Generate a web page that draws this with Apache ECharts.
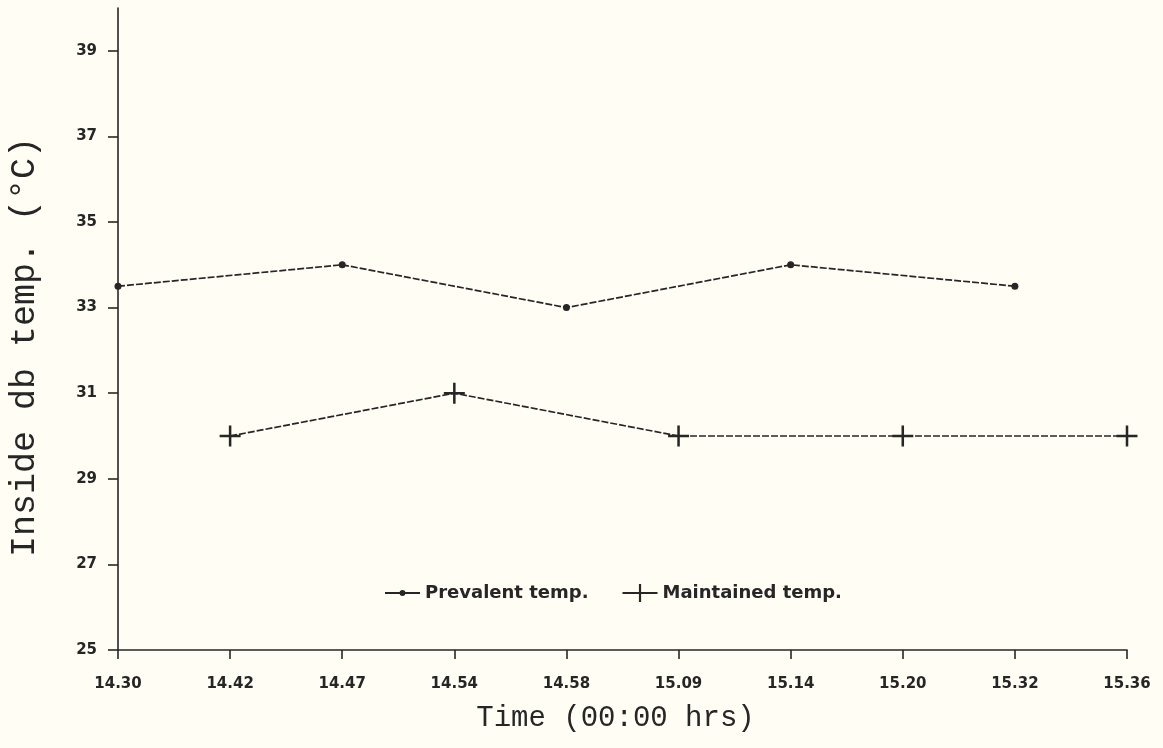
<!DOCTYPE html>
<html>
<head>
<meta charset="utf-8">
<script src="https://cdn.jsdelivr.net/npm/echarts@6/dist/echarts.min.js"></script>
<style>
html,body{margin:0;padding:0;background:#fffdf4;}
#c{width:1163px;height:748px;}
</style>
</head>
<body>
<div id="c"></div>
<script>
var categories = ['14.30','14.42','14.47','14.54','14.58','15.09','15.14','15.20','15.32','15.36'];
var prevalent = [33.5, null, 34, null, 33, null, 34, null, 33.5, null];
var maintained = [null, 30, null, 31, null, 30, null, 30, null, 30];
var yTicks = [25, 27, 29, 31, 33, 35, 37, 39];

var crossPath = 'path://M0,8.8 L20,8.8 L20,11.2 L0,11.2 Z M8.8,0 L11.2,0 L11.2,20 L8.8,20 Z';
var legendDotIcon = 'path://M0,2 L15.4,2 L15.4,4 L0,4 Z M20.6,2 L36,2 L36,4 L20.6,4 Z M15,3 A3,3 0 1,1 21,3 A3,3 0 1,1 15,3 Z';
var legendCrossIcon = 'path://M0,7.9 L35,7.9 L35,10.1 L0,10.1 Z M16.4,0 L18.6,0 L18.6,18 L16.4,18 Z';
var ink = '#262626';
var chart = echarts.init(document.getElementById('c'));
chart.setOption({
  backgroundColor: '#fffdf4',
  animation: false,
  grid: {left: 118, right: 36, top: 8, bottom: 98, containLabel: false, outerBoundsMode: 'none'},
  legend: {
    left: 380, top: 579,
    itemWidth: 35, itemHeight: 18, itemGap: 34, itemTextGap: 6,
    symbolKeepAspect: true,
    textStyle: {fontFamily: 'DejaVu Sans', fontWeight: 'bold', fontSize: 18, color: ink},
    data: [
      {name: 'Prevalent temp.', icon: legendDotIcon},
      {name: 'Maintained temp.', icon: legendCrossIcon}
    ]
  },
  xAxis: {
    type: 'category',
    data: categories,
    boundaryGap: false,
    name: 'Time (00:00 hrs)',
    nameLocation: 'middle',
    nameGap: 54,
    nameTextStyle: {fontFamily: 'Liberation Mono', fontSize: 29, color: ink, padding: [0, 14, 0, 0]},
    axisLine: {lineStyle: {color: ink, width: 1.6}},
    axisTick: {alignWithLabel: true, length: 9, lineStyle: {color: ink, width: 1.6}},
    axisLabel: {margin: 27, fontFamily: 'DejaVu Sans', fontWeight: 'bold', fontSize: 15, color: ink, interval: 0},
    splitLine: {show: false}
  },
  yAxis: {
    type: 'value',
    min: 25, max: 40, interval: 2,
    name: 'Inside db temp. (°C)',
    nameLocation: 'middle',
    nameGap: 76,
    nameTextStyle: {fontFamily: 'Liberation Mono', fontSize: 35, color: ink, padding: [0, 36, 0, 0]},
    axisLine: {show: true, lineStyle: {color: ink, width: 1.6}},
    axisTick: {show: true, length: 10, lineStyle: {color: ink, width: 1.6}},
    axisLabel: {margin: 21, fontFamily: 'DejaVu Sans', fontWeight: 'bold', fontSize: 15, color: ink,
      showMaxLabel: false,
      formatter: function (v) { return yTicks.indexOf(v) >= 0 ? String(v) : ''; }},
    splitLine: {show: false}
  },
  series: [
    {
      name: 'Prevalent temp.',
      type: 'line',
      data: prevalent,
      connectNulls: true,
      symbol: 'circle',
      symbolSize: 7,
      showSymbol: true,
      itemStyle: {color: ink},
      lineStyle: {color: ink, width: 1.7, type: [7, 2]}
    },
    {
      name: 'Maintained temp.',
      type: 'line',
      data: maintained,
      connectNulls: true,
      symbol: crossPath,
      symbolSize: 21,
      showSymbol: true,
      itemStyle: {color: ink},
      lineStyle: {color: ink, width: 1.7, type: [7, 2]}
    }
  ]
});
</script>
</body>
</html>
